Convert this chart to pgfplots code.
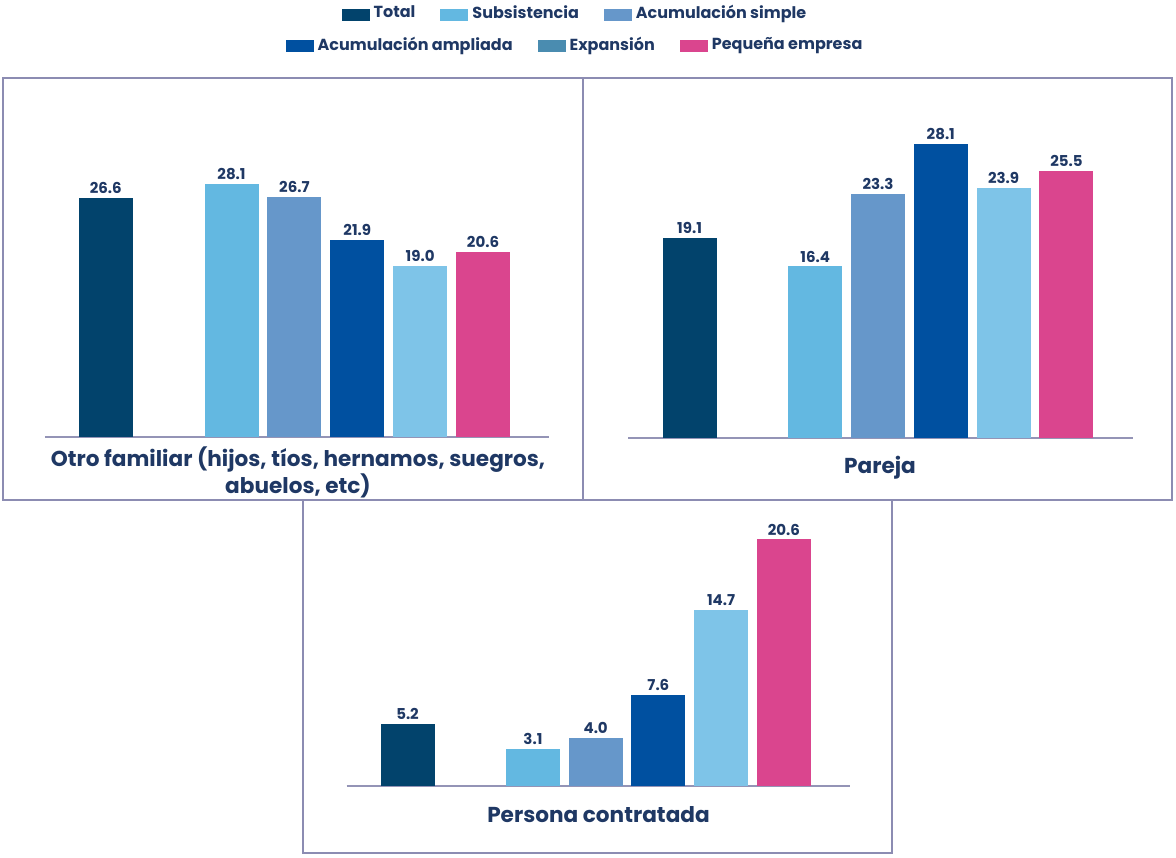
\documentclass[border=0pt]{standalone}
\usepackage{pgfplots}
\pgfplotsset{compat=1.18}
\usepackage{fontspec}
\setmainfont{Poppins}

\definecolor{cTotal}{HTML}{02436C}
\definecolor{cSubs}{HTML}{63B8E1}
\definecolor{cSimple}{HTML}{6697CA}
\definecolor{cAmpl}{HTML}{0050A0}
\definecolor{cExp}{HTML}{7EC4E8}
\definecolor{cExpKey}{HTML}{4A8CB0}
\definecolor{cPeq}{HTML}{DA458E}
\definecolor{txt}{HTML}{1F3864}
\definecolor{framecol}{HTML}{8C8CB2}
\definecolor{axiscol}{HTML}{9494B6}

\pgfplotsset{
  panel/.style={
    scale only axis, anchor=south west,
    ybar, bar width=27pt, bar shift=0pt,
    ymin=0, axis x line=bottom, axis y line=none,
    xtick=\empty, ytick=\empty,
    x axis line style={-, draw=axiscol, line width=1.1pt},
    clip=false,
    /pgf/number format/assume math mode=true,
    /pgf/number format/fixed,
    /pgf/number format/fixed zerofill,
    /pgf/number format/precision=1,
    nodes near coords,
    every node near coord/.append style={font=\bfseries\fontsize{7.5}{8}\selectfont, text=txt, yshift=-1.5pt},
  },
  keylegend/.style={
    hide axis, scale only axis, width=1pt, height=1pt,
    xmin=0, xmax=1, ymin=0, ymax=1, anchor=center,
    legend columns=3,
    legend style={at={(0.5,0.5)}, anchor=center, draw=none, fill=none,
      font=\bfseries\fontsize{8}{9}\selectfont, text=txt,
      /tikz/every even column/.append style={column sep=10.5pt}},
    legend image code/.code={\fill[##1, draw=none] (-1.5pt,-3.5pt) rectangle (12.5pt,2.5pt);},
  },
}

\begin{document}
\begin{tikzpicture}[x=0.5pt,y=-0.5pt]
\useasboundingbox (0,0) rectangle (1176,857);

% anchor points for the axes (pixel-like grid, y downwards)
\coordinate (legA) at (576,13.5);
\coordinate (legB) at (576,45);
\coordinate (pA) at (44.8,437);
\coordinate (pB) at (628.3,437.7);
\coordinate (pC) at (346.7,785.7);

% panel frames
\draw[framecol, line width=1pt] (3,78) rectangle (583,500);
\draw[framecol, line width=1pt] (583,78) rectangle (1172,500);
\draw[framecol, line width=1pt] (303,500) rectangle (892,853);

% legend, two centred rows
\begin{axis}[keylegend, at={(legA)}]
\addlegendimage{fill=cTotal}\addlegendentry{Total}
\addlegendimage{fill=cSubs}\addlegendentry{Subsistencia}
\addlegendimage{fill=cSimple}\addlegendentry{Acumulación simple}
\end{axis}
\begin{axis}[keylegend, at={(legB)}]
\addlegendimage{fill=cAmpl}\addlegendentry{Acumulación ampliada}
\addlegendimage{fill=cExpKey}\addlegendentry{Expansión}
\addlegendimage{fill=cPeq}\addlegendentry{Pequeña empresa}
\end{axis}

% Otro familiar
\begin{axis}[panel, at={(pA)}, width=252.1pt, height=179.5pt,
  xmin=-0.97, xmax=7.05, ymax=39.9]
\addplot[fill=cTotal, draw=none] coordinates {(0,26.6)};
\addplot[fill=cSubs, draw=none] coordinates {(2,28.1)};
\addplot[fill=cSimple, draw=none] coordinates {(3,26.7)};
\addplot[fill=cAmpl, draw=none] coordinates {(4,21.9)};
\addplot[fill=cExp, draw=none] coordinates {(5,19.0)};
\addplot[fill=cPeq, draw=none] coordinates {(6,20.6)};
\end{axis}

% Pareja
\begin{axis}[panel, at={(pB)}, width=252.35pt, height=179.85pt,
  xmin=-0.975, xmax=7.06, ymax=34.4]
\addplot[fill=cTotal, draw=none] coordinates {(0,19.1)};
\addplot[fill=cSubs, draw=none] coordinates {(2,16.4)};
\addplot[fill=cSimple, draw=none] coordinates {(3,23.3)};
\addplot[fill=cAmpl, draw=none] coordinates {(4,28.1)};
\addplot[fill=cExp, draw=none] coordinates {(5,23.9)};
\addplot[fill=cPeq, draw=none] coordinates {(6,25.5)};
\end{axis}

% Persona contratada
\begin{axis}[panel, at={(pC)}, width=251.8pt, height=142.35pt,
  xmin=-0.97, xmax=7.06, ymax=23.8]
\addplot[fill=cTotal, draw=none] coordinates {(0,5.2)};
\addplot[fill=cSubs, draw=none] coordinates {(2,3.1)};
\addplot[fill=cSimple, draw=none] coordinates {(3,4.0)};
\addplot[fill=cAmpl, draw=none] coordinates {(4,7.6)};
\addplot[fill=cExp, draw=none] coordinates {(5,14.7)};
\addplot[fill=cPeq, draw=none] coordinates {(6,20.6)};
\end{axis}

% category names
\node[font=\bfseries\fontsize{10.8}{12.5}\selectfont, text=txt, align=center]
  at (298,472.5) {Otro familiar (hijos, tíos, hernamos, suegros,\\abuelos, etc)};
\node[font=\bfseries\fontsize{10.8}{12.5}\selectfont, text=txt] at (880,468) {Pareja};
\node[font=\bfseries\fontsize{10.8}{12.5}\selectfont, text=txt] at (598.5,815) {Persona contratada};
\end{tikzpicture}
\end{document}
